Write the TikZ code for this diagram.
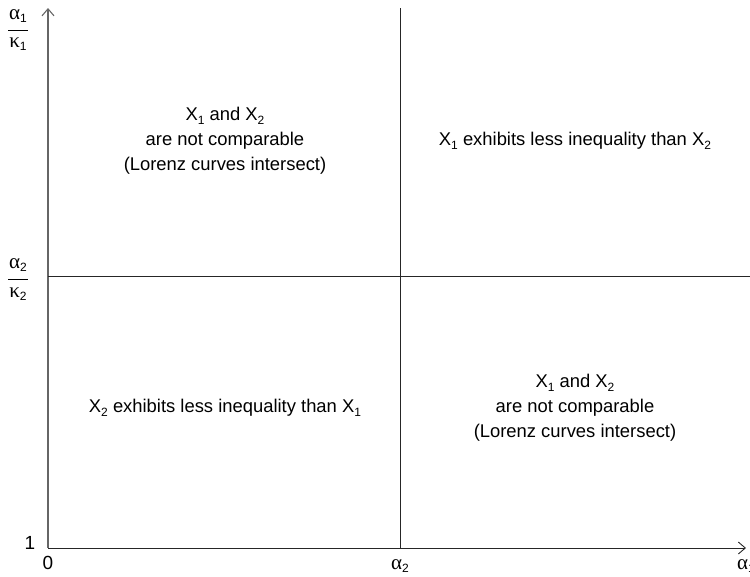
\documentclass[tikz,border=0pt]{standalone}
\usepackage{fontspec}
\usetikzlibrary{arrows.meta}
\setmainfont{Liberation Sans}
\newfontfamily\grk{Liberation Serif}
\newcommand{\lowsub}[1]{\raisebox{-0.35ex}{\fontsize{12}{12}\selectfont #1}}
\newcommand{\gsym}[2]{{\grk\fontsize{21}{21}\selectfont #1}\lowsub{#2}}
\begin{document}
\begin{tikzpicture}[x=1pt,y=-1pt,
  axis/.style={draw=black!60,line width=1.1pt},
  grid/.style={draw=black!85,line width=0.9pt},
  lbl/.style={font=\fontsize{18.4}{25}\selectfont,align=center,inner sep=0pt},
  tick/.style={font=\fontsize{19}{20}\selectfont,inner sep=0pt},
  arr/.style={-{Straight Barb[length=7pt,width=12pt]}}]
\useasboundingbox (0,0) rectangle (750,576);
\coordinate (O) at (48,548);
\coordinate (Ytop) at (48,8);
\coordinate (Xend) at (746,548);
\coordinate (Hl) at (48,276);
\coordinate (Hr) at (750,276);
\coordinate (Vt) at (400,8);
\coordinate (Vb) at (400,548);
\draw[axis,arr] (O) -- (Ytop);
\draw[grid,arr] (O) -- (Xend);
\draw[grid] (Hl) -- (Hr);
\draw[grid] (Vt) -- (Vb);
\node[tick] (f1n) at (18,16) {\gsym{α}{1}};
\node[tick] (f1d) at (18,44) {\gsym{κ}{1}};
\draw[line width=0.7pt] (8,30) -- (28,30);
\node[tick] (f2n) at (18,265) {\gsym{α}{2}};
\node[tick] (f2d) at (18,294) {\gsym{κ}{2}};
\draw[line width=0.7pt] (8,279) -- (28,279);
\node[tick] (one) at (30,543) {1};
\node[tick] (zero) at (48,563) {0};
\node[tick] (a2) at (400,566) {\gsym{α}{2}};
\node[tick,anchor=west] (a1) at (737,566) {\gsym{α}{1}};
\node[lbl] (tl) at (225,141) {X\lowsub{1} and X\lowsub{2}\\are not comparable\\(Lorenz curves intersect)};
\node[lbl] (tr) at (575,141) {X\lowsub{1} exhibits less inequality than X\lowsub{2}};
\node[lbl] (bl) at (225,408) {X\lowsub{2} exhibits less inequality than X\lowsub{1}};
\node[lbl] (br) at (575,408) {X\lowsub{1} and X\lowsub{2}\\are not comparable\\(Lorenz curves intersect)};
\end{tikzpicture}
\end{document}
